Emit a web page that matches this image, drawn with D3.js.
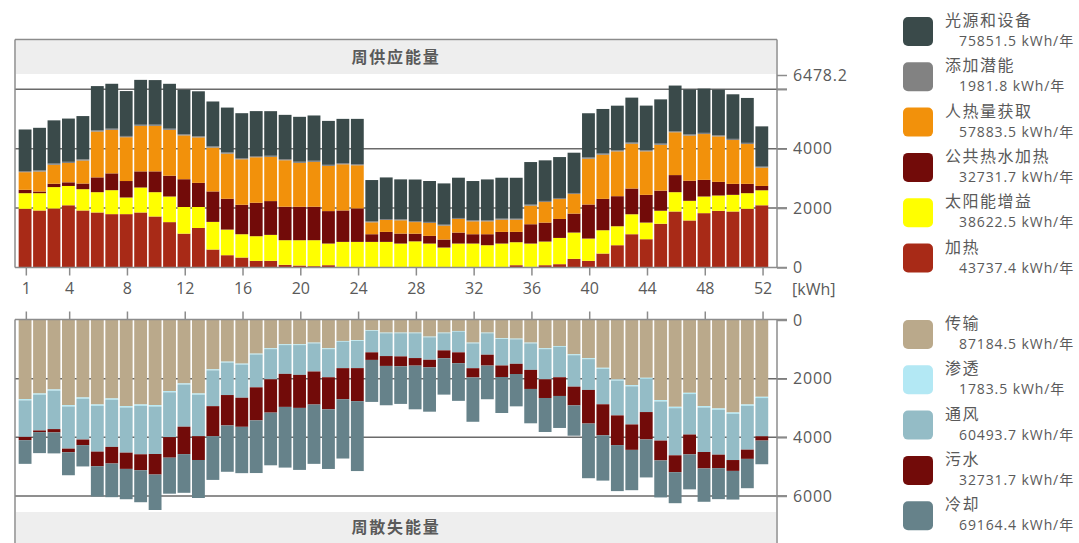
<!DOCTYPE html>
<html>
<head>
<meta charset="utf-8">
<script src="https://cdn.jsdelivr.net/npm/d3@7"></script>
<style>
  body { margin: 0; background: #fff; }
  svg text { font-family: "Open Sans", "Noto Sans CJK SC", sans-serif; fill: #555; }
</style>
</head>
<body>
<svg id="chart" width="1079" height="543"></svg>
<script>
// Weekly energy balance, kWh per week (weeks 1–52)
const weeks = d3.range(1, 53);
const weekTicks = [1, 4, 8, 12, 16, 20, 24, 28, 32, 36, 40, 44, 48, 52];
const valueTicks = [0, 2000, 4000, 6000];

// ---- supply side (stacked from the baseline upward) ----
const heating = [1975, 1919, 1986, 2094, 1919, 1852, 1796, 1796, 1852, 1717, 1527, 1140, 1330,
  605, 414, 336, 224, 224, 90, 67, 45, 78, 22, 0, 0, 0,
  0, 0, 0, 0, 0, 0, 0, 0, 78, 22, 78, 112, 291,
  224, 470, 750, 1120, 952, 1473, 1885, 1583, 1829, 1908, 1885, 1975, 2094.4];
const solarGain = [526, 582, 720, 650, 717, 683, 806, 560, 840, 818, 862, 896, 706,
  930, 862, 784, 829, 874, 829, 851, 874, 728, 840, 862, 862, 862,
  806, 880, 806, 672, 806, 806, 750, 806, 773, 784, 795, 883.5, 885,
  750, 784, 638, 672, 560, 437, 650, 661, 560, 515, 560, 526, 504];
const hotWater = [112.7, 56, 112, 123, 190, 498, 566, 554, 543, 700, 700, 935, 812,
  1025, 1036, 991, 1126, 1137, 1126, 1126, 1126, 1092, 1058, 1126, 258, 336,
  336, 258, 258, 269, 370, 314, 370, 392, 347, 650, 638, 638, 638,
  1146, 1056, 1012, 866, 933, 676, 575, 676, 560, 459, 370, 314, 146];
const peopleGain = [594, 672, 638, 650, 773, 1542, 1464, 1475, 1531, 1531, 1542, 1475, 1531,
  1475, 1520, 1531, 1531, 1486, 1564, 1475, 1508, 1520, 1553, 1452, 401, 401,
  446, 390, 434, 468, 457, 434, 434, 412, 412, 625, 692, 670, 658,
  1542, 1486, 1508, 1508, 1464, 1542, 1441, 1520, 1542, 1531, 1475, 1340, 617.5];
const latentGain = [38, 39, 41, 40, 42, 41, 40, 42, 39, 41, 40, 38, 40,
  41, 39, 40, 42, 40, 39, 41, 40, 38, 40, 39, 34, 33,
  35, 34, 36, 33, 34, 35, 33, 34, 33, 35, 37, 36, 36,
  40, 39, 38, 40, 39, 41, 38, 39, 40, 38, 39, 40, 32.8];
const lighting = [1399, 1433, 1455, 1455, 1455, 1489, 1511, 1511, 1509.5, 1500, 1511, 1500, 1511,
  1511, 1511, 1511, 1511, 1500, 1489, 1511, 1523, 1478, 1489, 1523, 1388, 1399,
  1343, 1399, 1377, 1388, 1355, 1321, 1377, 1377, 1377, 1433, 1366, 1377, 1355,
  1489, 1500, 1500, 1511, 1500, 1489, 1534, 1511, 1489, 1534, 1500, 1511, 1355];

// ---- loss side (stacked from the top edge downward) ----
const transmission = [2698, 2505, 2368, 2903, 2641, 2880, 2675, 2937, 2880, 2903, 2425, 2163, 2505,
  1682, 1420, 1488, 1147, 965, 829, 829, 772, 965, 715, 692, 351, 431,
  431, 431, 567, 431, 374, 772, 431, 624, 636, 772, 965, 886, 1170,
  1302.5, 1629, 2027, 2220, 1970, 2732, 2959, 2482, 2937, 3016, 3153, 2880, 2618];
const infiltration = [43, 41, 40, 46, 43, 46, 44, 47, 46, 47, 41, 38, 42,
  35, 32, 33, 30, 28, 26, 26, 25, 28, 24, 24, 20, 21,
  21, 21, 23, 21, 20, 26, 21, 24, 24, 26, 28, 27, 30,
  32, 35, 39, 41, 39, 45, 47, 43, 47, 48, 49, 47, 43.5];
const ventilation = [1244, 1221, 1312, 1437, 1392, 1562, 1608, 1539, 1653, 1619, 1528, 1437, 1414,
  1221, 1107, 1130, 1119, 1028, 982, 1016, 959, 959, 903, 925, 732, 778,
  789, 846, 766, 584, 709, 846, 732, 903, 834, 903, 1028, 1039, 1073,
  1050, 1210, 1187, 1301, 1130, 1335, 1608, 1380, 1517, 1528, 1573, 1494, 1303.7];
const wasteWater = hotWater; // hot water drawn leaves with the waste water
const cooling = [807, 716, 716, 784, 727, 1034, 1148, 1034, 1091, 1209.2, 1228, 1319, 1296,
  1489, 1580, 1580, 1796, 1796, 2069, 2114, 2023, 2035, 2023, 2383.4, 1432, 1341,
  1284, 1489, 1512, 1239, 1284, 1512, 1148, 1228, 1103, 1171, 1159, 1091, 1034,
  1863.8, 1546, 1569, 1375, 1296, 1262, 1057, 1193, 1137, 1057, 977, 1000, 807];

const supplyKeys = ["加热", "太阳能增益", "公共热水加热", "人热量获取", "添加潜能", "光源和设备"];
const supplySeries = [heating, solarGain, hotWater, peopleGain, latentGain, lighting];
const supplyColors = ["#a82a17", "#ffff00", "#720b09", "#f2910b", "#828282", "#3a4a4a"];

const lossKeys = ["传输", "渗透", "通风", "污水", "冷却"];
const lossSeries = [transmission, infiltration, ventilation, wasteWater, cooling];
const lossColors = ["#baa98b", "#b3e8f4", "#94bcc6", "#720b09", "#66828a"];

const unit = "kWh/年";

// rows for d3.stack
const supplyRows = weeks.map((w, i) => {
  const r = { week: w };
  supplyKeys.forEach((k, j) => r[k] = supplySeries[j][i]);
  return r;
});
const lossRows = weeks.map((w, i) => {
  const r = { week: w };
  lossKeys.forEach((k, j) => r[k] = lossSeries[j][i]);
  return r;
});
const supplyStack = d3.stack().keys(supplyKeys)(supplyRows);
const lossStack = d3.stack().keys(lossKeys)(lossRows);

const maxValue = Math.max(
  d3.max(supplyRows, r => d3.sum(supplyKeys, k => r[k])),
  d3.max(lossRows, r => d3.sum(lossKeys, k => r[k]))
);

const svg = d3.select("#chart");
const left = 15, right = 777;
const x = d3.scaleLinear().domain([0.25, 53]).range([left, right]);
const ySup = d3.scaleLinear().domain([0, maxValue]).range([267.5, 75]);
const yLoss = d3.scaleLinear().domain([0, maxValue]).range([320, 510]);
const step = x(2) - x(1);
const gridColor = "#6a6a6a";
const frameColor = "#8c8c8c";
const textColor = "#5a5a5a";

function panel(y, topEdge, bottomEdge, band, title, stackData, colors, down) {
  const g = svg.append("g");
  // title band
  g.append("rect").attr("x", left + 1).attr("width", right - left - 2)
    .attr("y", band[0]).attr("height", band[1] - band[0]).attr("fill", "#eeeeee");
  g.append("text").attr("x", 396).attr("y", (band[0] + band[1]) / 2).attr("dy", "0.36em")
    .attr("text-anchor", "middle").attr("font-size", 16).attr("font-weight", "bold")
    .style("letter-spacing", "1.8px").style("fill", textColor).text(title);
  // gridlines behind the bars
  g.selectAll("line.grid").data(valueTicks.slice(1)).join("line")
    .attr("x1", left).attr("x2", right + 10)
    .attr("y1", d => y(d)).attr("y2", d => y(d))
    .attr("stroke", gridColor).attr("stroke-width", 1.5);
  // bars
  g.selectAll("g.layer").data(stackData).join("g")
    .attr("fill", (d, i) => colors[i])
    .selectAll("rect").data(d => d).join("rect")
    .attr("x", d => x(d.data.week - 0.5) + 0.05)
    .attr("width", step - 1.6)
    .attr("y", d => down ? y(d[0]) : y(d[1]))
    .attr("height", d => Math.abs(y(d[1]) - y(d[0])));
  // frame: left edge and right axis line
  g.append("line").attr("x1", left).attr("x2", left).attr("y1", topEdge).attr("y2", bottomEdge)
    .attr("stroke", frameColor).attr("stroke-width", 1.5);
  g.append("line").attr("x1", right).attr("x2", right).attr("y1", topEdge).attr("y2", bottomEdge)
    .attr("stroke", frameColor).attr("stroke-width", 1.5);
  return g;
}

// supply panel
const gSup = panel(ySup, 39.5, 267.5, [40.3, 74], "周供应能量", supplyStack, supplyColors, false);
gSup.append("line").attr("x1", left).attr("x2", right).attr("y1", 39.5).attr("y2", 39.5)
  .attr("stroke", frameColor).attr("stroke-width", 1.5);
gSup.append("line").attr("x1", left).attr("x2", right + 10).attr("y1", 267.5).attr("y2", 267.5)
  .attr("stroke", frameColor).attr("stroke-width", 1.5);

// loss panel
const gLoss = panel(yLoss, 319.5, 543, [512, 543], "周散失能量", lossStack, lossColors, true);
gLoss.append("line").attr("x1", left).attr("x2", right + 10).attr("y1", 319.5).attr("y2", 319.5)
  .attr("stroke", frameColor).attr("stroke-width", 1.5);

// right value axes
const supTicks = valueTicks.concat([maxValue]);
const fmt = d => d === maxValue ? d3.format(".1f")(d) : d3.format("d")(d);
const axisSup = d3.axisRight(ySup).tickValues(supTicks).tickSize(10).tickPadding(6)
  .tickFormat(d => (d === 6000 ? "" : fmt(d)));
const axisLoss = d3.axisRight(yLoss).tickValues(valueTicks).tickSize(10).tickPadding(6)
  .tickFormat(fmt);
const ax1 = svg.append("g").attr("transform", `translate(${right},0)`).call(axisSup);
const ax2 = svg.append("g").attr("transform", `translate(${right},0)`).call(axisLoss);
[ax1, ax2].forEach(a => {
  a.select(".domain").remove();
  a.selectAll(".tick line").attr("stroke", frameColor).attr("stroke-width", 1.5);
  a.selectAll(".tick text").attr("font-size", 16).attr("font-family", null)
    .style("letter-spacing", "0.8px").style("fill", textColor);
});

// week axes between the panels
const axWeekTop = d3.axisBottom(x).tickValues(weekTicks).tickSize(8).tickPadding(7).tickFormat(d3.format("d"));
const axWeekBot = d3.axisTop(x).tickValues(weekTicks).tickSize(8).tickFormat("");
const aw1 = svg.append("g").attr("transform", "translate(0,267.5)").call(axWeekTop);
const aw2 = svg.append("g").attr("transform", "translate(0,319.5)").call(axWeekBot);
[aw1, aw2].forEach(a => {
  a.select(".domain").remove();
  a.selectAll(".tick line").attr("stroke", frameColor).attr("stroke-width", 1.5);
});
aw1.selectAll(".tick text").attr("font-size", 16).attr("font-family", null).style("fill", textColor);
svg.append("text").attr("x", 792).attr("y", 289).attr("dy", "0.36em")
  .attr("font-size", 16).style("fill", textColor).text("[kWh]");

// legends
function legend(keys, series, colors, topY) {
  const items = keys.map((k, i) => ({ name: k, color: colors[i], total: d3.sum(series[i]) }));
  const g = svg.append("g").selectAll("g").data(items).join("g")
    .attr("transform", (d, i) => `translate(903,${topY + i * 45.3})`);
  g.append("rect").attr("width", 30).attr("height", 29).attr("rx", 5).attr("fill", d => d.color);
  g.append("text").attr("x", 42).attr("y", 9).attr("font-size", 16)
    .style("letter-spacing", "1.5px").style("fill", textColor).text(d => d.name);
  g.append("text").attr("x", 56).attr("y", 29).attr("font-size", 14)
    .style("letter-spacing", "0.9px").style("fill", textColor)
    .text(d => `${d3.format(".1f")(d.total)} ${unit}`);
}
legend(supplyKeys.slice().reverse(), supplySeries.slice().reverse(), supplyColors.slice().reverse(), 17);
legend(lossKeys, lossSeries, lossColors, 320);
</script>
</body>
</html>
